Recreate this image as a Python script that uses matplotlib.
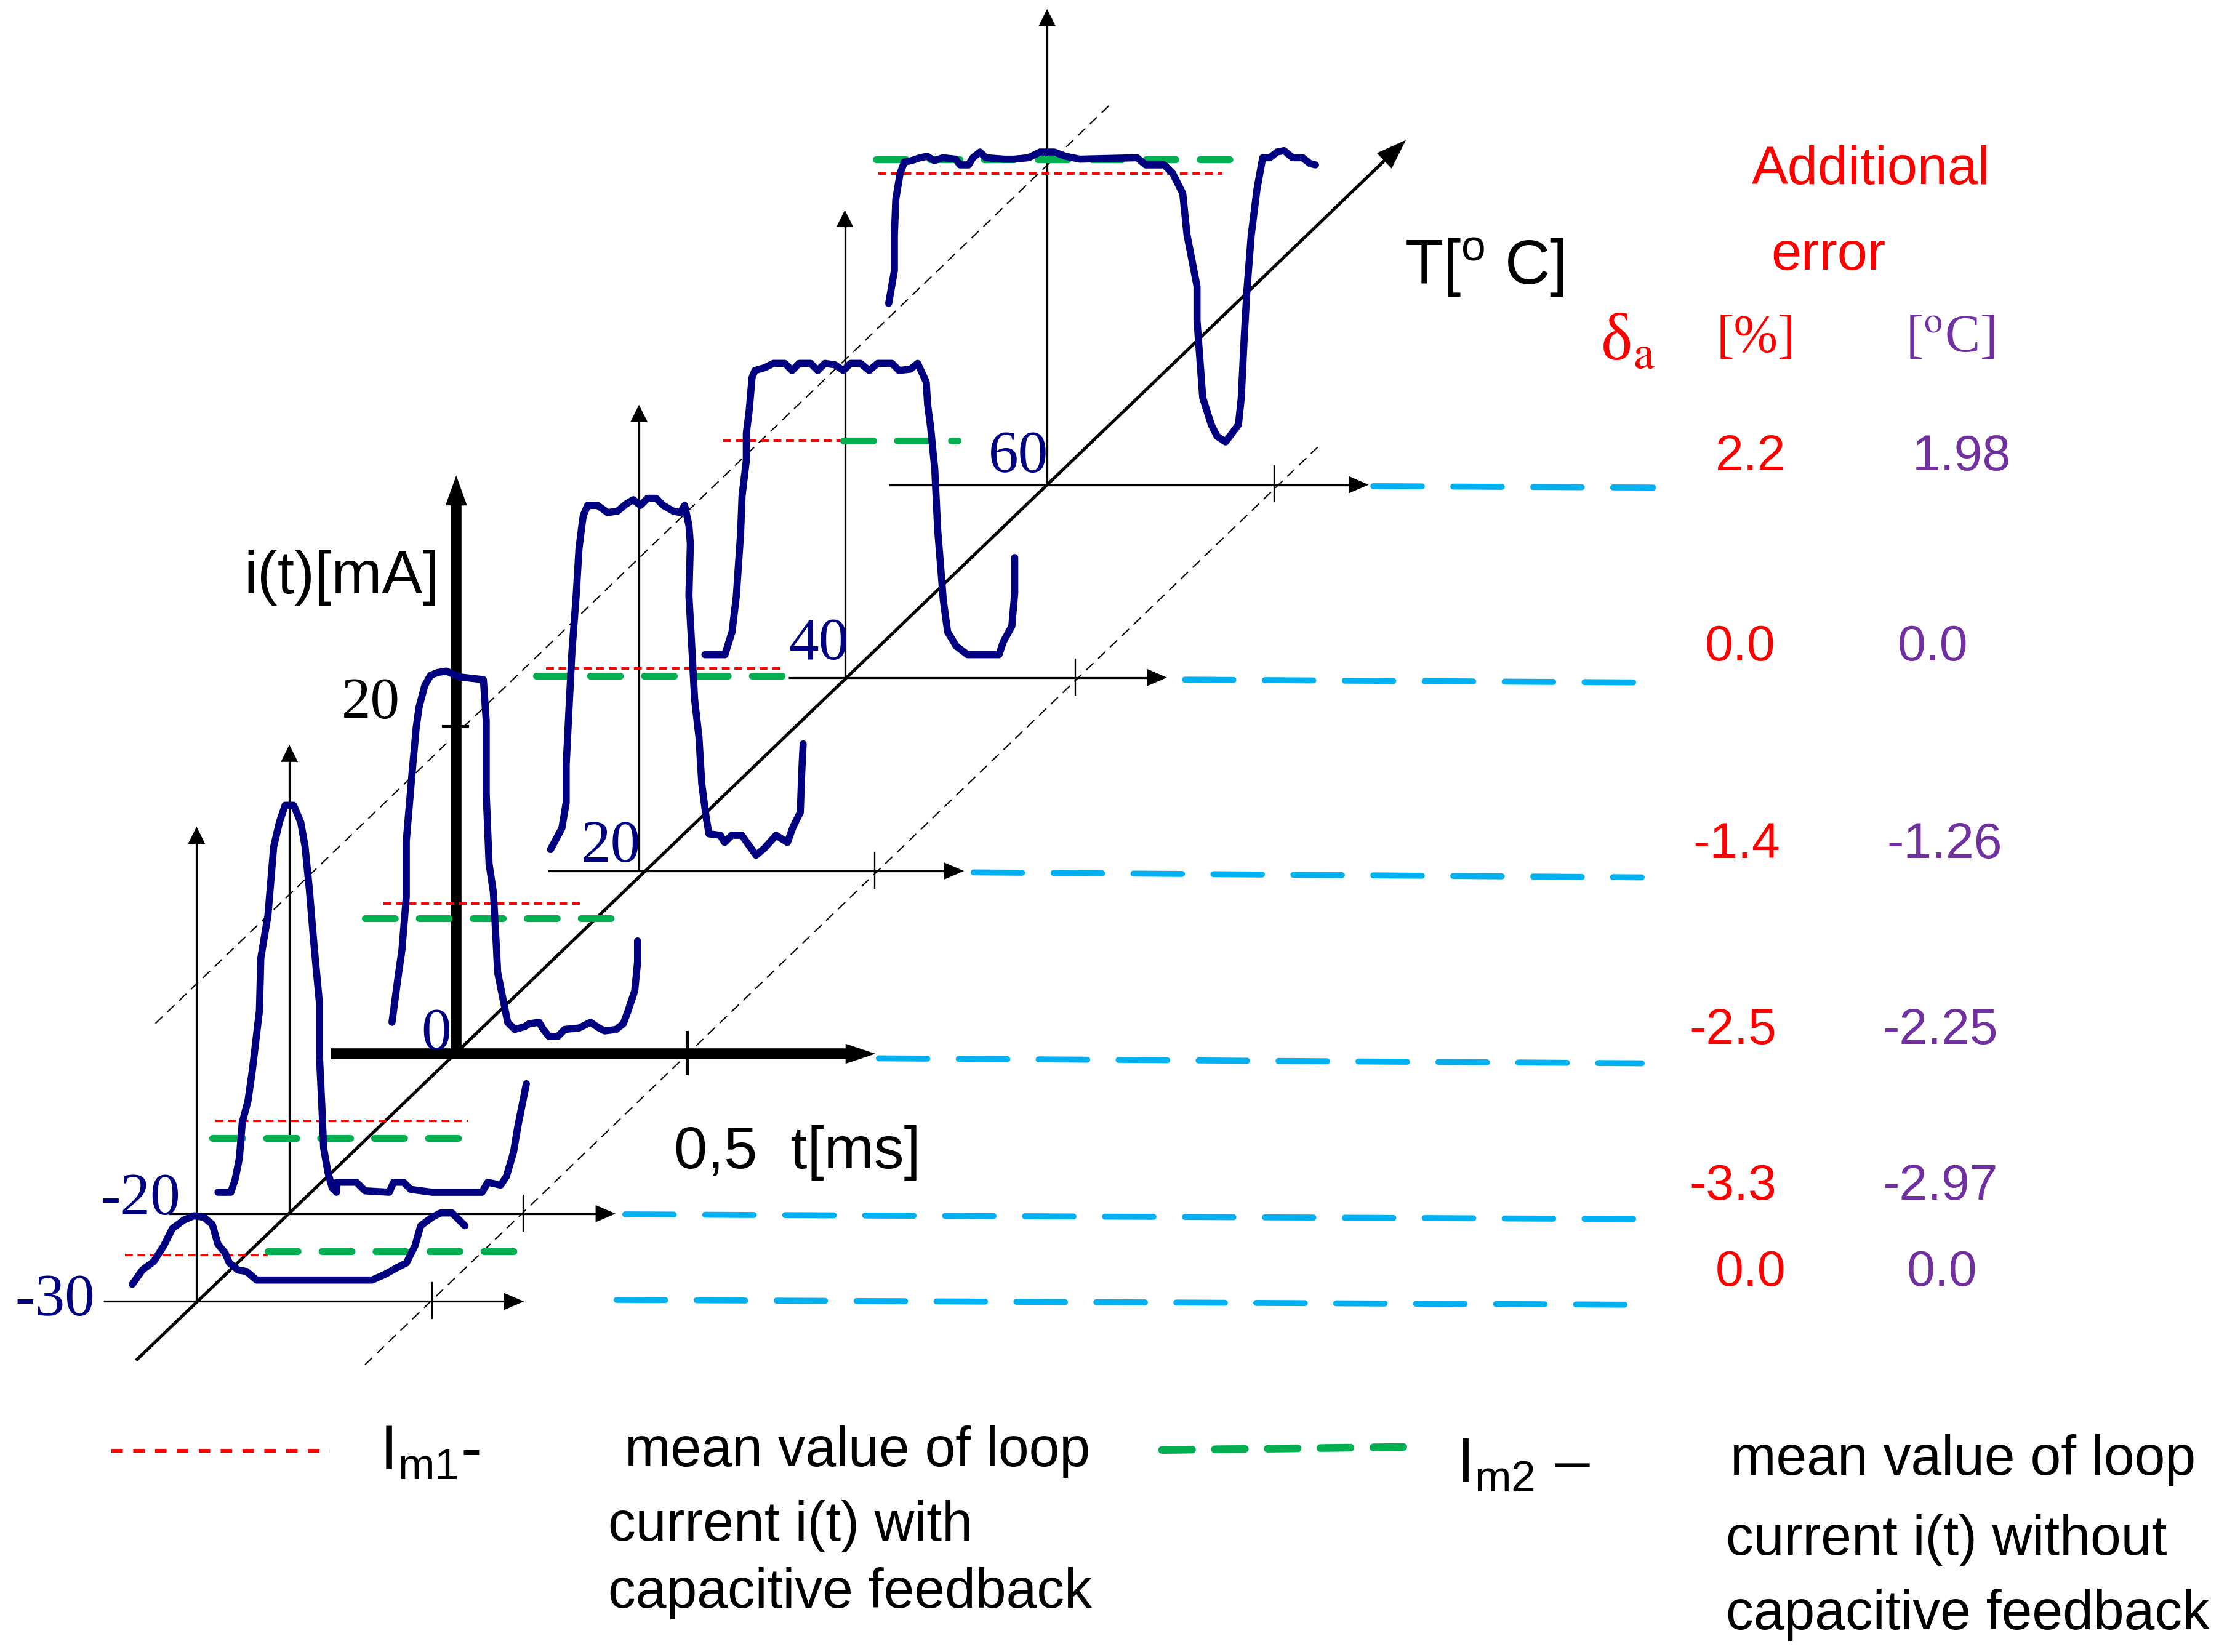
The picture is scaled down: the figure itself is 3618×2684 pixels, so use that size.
import matplotlib
matplotlib.use('Agg')
import matplotlib.pyplot as plt
from matplotlib.patches import Polygon
import numpy as np

plt.rcParams['lines.scale_dashes'] = False
plt.rcParams['mathtext.fontset'] = 'custom'
plt.rcParams['mathtext.rm'] = 'Liberation Sans'
plt.rcParams['mathtext.it'] = 'Liberation Sans:italic'
plt.rcParams['mathtext.bf'] = 'Liberation Sans:bold'

# ---------------- data ----------------
temps = [-30, -20, 0, 20, 40, 60]
temp_labels = ['-30', '-20', '0', '20', '40', '60']
err_pct = [0.0, -3.3, -2.5, -1.4, 0.0, 2.2]
err_degC = [0.0, -2.97, -2.25, -1.26, 0.0, 1.98]

# loop current waveforms, offsets from each axis origin (t to the right, i upward), drawing units
wave_t = {
    -30: [-45, -38, -30, -23, -17, -9, -2, 5, 11, 15, 20, 23, 29, 35, 42, 123, 132, 141, 147, 153, 157, 165, 171, 179, 188],
    -20: [-50, -41, -38, -35, -33, -29, -26, -21, -20, -15, -13, -11, -7, -3, 3, 8, 11, 14, 17, 21, 21, 23, 24, 27, 30, 33,
          33, 47, 53, 70, 73, 80, 85, 100, 135, 139, 148, 152, 157, 160, 163, 166],
    0: [-45, -41, -38, -35, -35, -31, -28, -26, -22, -18, -13, -7, 2, 10, 19, 21, 21, 23, 26, 28, 29, 33, 36, 41, 48, 51,
        58, 61, 65, 71, 76, 86, 94, 100, 104, 112, 117, 120, 125, 127, 127],
    20: [-62, -54, -51, -51, -49, -47, -44, -42, -40, -39, -36, -29, -22, -15, -9, -4, 1, 6, 12, 17, 24, 29, 32, 35, 36,
         35, 37, 39, 42, 44, 47, 49, 57, 60, 65, 72, 82, 88, 96, 104, 108, 113, 114, 115],
    40: [-98, -84, -79, -76, -73, -72, -69, -69, -67, -65, -63, -56, -50, -42, -37, -32, -24, -19, -14, -7, -1, 4, 11, 17,
         23, 33, 38, 46, 51, 57, 58, 60, 63, 65, 67, 69, 72, 78, 86, 108, 111, 117, 119, 119],
    60: [-111, -107, -107, -106, -103, -100, -95, -89, -84, -79, -73, -64, -61, -55, -52, -47, -43, -30, -23, -13, -5, 5,
         13, 23, 63, 69, 82, 88, 95, 98, 105, 105, 109, 115, 119, 125, 134, 136, 138, 140, 143, 147, 151, 156, 161, 166,
         172, 179, 184, 188],
}
wave_i = {
    -30: [12, 22, 28, 39, 51, 57, 60, 59, 54, 40, 34, 27, 22, 21, 15, 15, 19, 24, 27, 39, 53, 59, 62, 62, 53],
    -20: [15, 15, 24, 39, 64, 79, 100, 142, 179, 209, 233, 257, 274, 286, 286, 274, 257, 227, 191, 148, 112, 70, 46, 29,
          18, 15, 22, 22, 16, 15, 22, 22, 17, 15, 15, 22, 20, 26, 43, 61, 76, 91],
    0: [22, 52, 73, 110, 149, 196, 229, 243, 258, 265, 267, 268, 264, 263, 262, 233, 182, 133, 113, 77, 57, 37, 22, 17,
        19, 21, 22, 17, 12, 12, 17, 18, 22, 18, 16, 17, 21, 29, 44, 64, 79],
    20: [15, 30, 48, 74, 114, 153, 193, 226, 242, 249, 256, 256, 251, 252, 257, 260, 256, 261, 261, 256, 252, 251, 256,
         242, 229, 193, 157, 120, 94, 61, 38, 26, 25, 20, 25, 25, 11, 16, 25, 20, 31, 41, 69, 89],
    40: [16, 16, 32, 57, 101, 127, 152, 171, 187, 210, 215, 217, 220, 220, 215, 220, 220, 215, 220, 219, 215, 220, 220,
         215, 220, 220, 215, 216, 220, 207, 191, 176, 146, 104, 79, 54, 32, 22, 16, 16, 25, 36, 59, 84],
    60: [127, 150, 175, 200, 218, 226, 227, 229, 230, 227, 229, 228, 224, 224, 229, 233, 229, 228, 228, 229, 233, 233, 230,
         228, 229, 224, 224, 218, 204, 175, 139, 115, 61, 42, 34, 30, 42, 61, 102, 137, 175, 207, 229, 229, 233, 234, 229,
         229, 225, 224],
}
# mean values: level (upward offset) and t-span
im1_level = [32.5, 65, 105, 142, 166, 218]
im1_span = [(-50, 50), (-52, 125), (-51, 89), (-65, 99), (-85, -3), (-118, 123)]
im2_level = [35, 53, 95, 136.5, 166, 228]
im2_span = [(50, 229), (-54, 124), (-64, 113), (-72, 105), (-1, 79), (-120, 133)]

# ---------------- layout ----------------
W, H = 1560, 1157
DPI = 100
P = 3618 / W * 72 / DPI  # points per drawing unit

NAVY = '#000080'
RED = '#FF0000'
GREEN = '#00B050'
CYAN = '#00B0F0'
PURPLE = '#7030A0'
SERIF = 'Liberation Serif'
SANS = 'Liberation Sans'

origin_x = [137.7, 202.7, 319.6, 447.6, 591.8, 733.5]
origin_y = [911.5, 850, 738, 610, 474.5, 339.5]
axis_left = [72.6, 118, 231.4, 383.9, 552.5, 622.7]
axis_tip = [367, 431.2, 613.3, 675.3, 817.5, 958.8]
tick_x = [302.6, 366.7, 481.3, 612.6, 753.2, 892.6]
vtop = [579, 521.6, 333, 283.5, 147.1, 6.3]
label_right = [66.6, 126.5, 316, 449, 594.5, 734.6]
label_base = [921, 850.5, 735, 603.6, 461.7, 330.6]
cyan_start = [(432, 910.4), (438, 850.5), (615.6, 741.2), (682, 611), (830, 476), (962, 340.5)]
cyan_end = [(1146, 913.8), (1152, 853.8), (1150, 744.7), (1150, 614.5), (1155, 478), (1158, 341.5)]
row_base = [900.6, 840, 731, 600.9, 462.6, 329.5]
pct_cx = [1226.4, 1213.8, 1213.8, 1216.4, 1218.8, 1226.2]
deg_cx = [1360.6, 1359, 1359, 1362.2, 1354.1, 1374]

fig = plt.figure(figsize=(36.18, 26.84), dpi=DPI)
ax = fig.add_axes([0, 0, 1, 1])
ax.set_xlim(0, W)
ax.set_ylim(H, 0)
ax.axis('off')


def arrow(x0, y0, x1, y1, lw, head_len, head_w, color='black', z=3):
    d = np.array([x1 - x0, y1 - y0], dtype=float)
    u = d / np.hypot(*d)
    n = np.array([-u[1], u[0]])
    tip = np.array([x1, y1], dtype=float)
    base = tip - u * head_len
    ax.plot([x0, base[0] + u[0]], [y0, base[1] + u[1]], color=color, lw=lw * P,
            solid_capstyle='butt', zorder=z)
    ax.add_patch(Polygon([tip, base + n * head_w, base - n * head_w], closed=True,
                         facecolor=color, edgecolor='none', zorder=z))


# thin dashed guide lines parallel to T axis
for (xa, ya), (xb, yb) in [((108.9, 716.8), (777.5, 73.4)), ((255.7, 955.8), (923, 313.2))]:
    ax.plot([xa, xb], [ya, yb], color='black', lw=0.9 * P, dashes=(7 * P, 4.5 * P), zorder=2)

# main temperature axis
arrow(95.3, 952.8, 984.8, 98.1, 2.2, 21, 7.5)

# per-temperature axes
for k, T in enumerate(temps):
    ox, oy = origin_x[k], origin_y[k]
    if T == 0:
        arrow(axis_left[k], oy, axis_tip[k], oy, 7.6, 21, 7, z=4)
        arrow(ox, oy + 3.5, ox, vtop[k], 7.6, 21, 7.5, z=4)
        ax.plot([tick_x[k], tick_x[k]], [oy - 15, oy + 14], color='black', lw=2.2 * P, zorder=4)
        ax.plot([310.6, 327.2], [508.5, 508.5], color='black', lw=2.2 * P, zorder=4)
    else:
        arrow(axis_left[k], oy, axis_tip[k], oy, 1.4, 14, 6)
        arrow(ox, oy, ox, vtop[k], 1.4, 12, 6)
        ax.plot([tick_x[k], tick_x[k]], [oy - 13, oy + 12], color='black', lw=1.0 * P, zorder=3)
    ax.text(label_right[k], label_base[k], temp_labels[k], color=NAVY, fontsize=42 * P,
            family=SERIF, ha='right', va='baseline', zorder=6)

    # mean values
    l1, (a1, b1) = im1_level[k], im1_span[k]
    ax.plot([ox + a1, ox + b1], [oy - l1, oy - l1], color=RED, lw=1.7 * P,
            dashes=(5.5 * P, 3.3 * P), zorder=5)
    l2, (a2, b2) = im2_level[k], im2_span[k]
    ax.plot([ox + a2, ox + b2], [oy - l2, oy - l2], color=GREEN, lw=4.8 * P,
            dashes=(21 * P, 16.8 * P), dash_capstyle='round', zorder=5)

    # waveform
    xs = ox + np.array(wave_t[T], dtype=float)
    ys = oy - np.array(wave_i[T], dtype=float)
    ax.plot(xs, ys, color=NAVY, lw=5.0 * P, solid_joinstyle='round',
            solid_capstyle='round', zorder=6)

    # cyan continuation line
    (xa, ya), (xb, yb) = cyan_start[k], cyan_end[k]
    ax.plot([xa, xb], [ya, yb], color=CYAN, lw=4.2 * P, dashes=(34 * P, 22 * P),
            dash_capstyle='round', zorder=3)

    # error values
    ax.text(pct_cx[k], row_base[k], '%.1f' % err_pct[k], color=RED, family=SANS,
            fontsize=35.5 * P, ha='center', va='baseline')
    dtxt = '0.0' if err_degC[k] == 0 else '%.2f' % err_degC[k]
    ax.text(deg_cx[k], row_base[k], dtxt, color=PURPLE, family=SANS,
            fontsize=35.5 * P, ha='center', va='baseline')

# axis labels
ax.text(171, 415.5, 'i(t)[mA]', family=SANS, fontsize=42.5 * P, ha='left', va='baseline')
ax.text(280, 503, '20', family=SERIF, fontsize=41 * P, ha='right', va='baseline')
ax.text(472, 818, '0,5  t[ms]', family=SANS, fontsize=42 * P, ha='left', va='baseline')
ax.text(984, 199.3, r'T[$^{\mathrm{o}}$ C]', family=SANS, fontsize=44 * P, ha='left', va='baseline')

# error header
ax.text(1227, 128.9, 'Additional', color=RED, family=SANS, fontsize=38 * P, ha='left', va='baseline')
ax.text(1240.4, 188.8, 'error', color=RED, family=SANS, fontsize=38 * P, ha='left', va='baseline')
ax.text(1121, 252, r'δ$_{\mathrm{a}}$', color=RED, family=SERIF, fontsize=47 * P,
        math_fontfamily='stix', ha='left', va='baseline')
ax.text(1202.5, 246.3, '[%]', color=RED, family=SERIF, fontsize=37 * P, ha='left', va='baseline')
ax.text(1334.8, 246.3, r'[$^{\mathrm{o}}$C]', color=PURPLE, family=SERIF, fontsize=37 * P,
        math_fontfamily='stix', ha='left', va='baseline')

# legend
ax.plot([78, 231], [1016, 1016], color=RED, lw=2.6 * P, dashes=(8 * P, 7.3 * P))
ax.text(266, 1029.5, r'I$_{\mathrm{m1}}$-', family=SANS, fontsize=44 * P, ha='left', va='baseline')
ax.text(437.8, 1027, 'mean value of loop', family=SANS, fontsize=38.6 * P, ha='left', va='baseline')
ax.text(425.9, 1079, 'current i(t) with', family=SANS, fontsize=38.6 * P, ha='left', va='baseline')
ax.text(425.9, 1126, 'capacitive feedback', family=SANS, fontsize=38.6 * P, ha='left', va='baseline')

ax.plot([814, 986], [1015.5, 1013.4], color=GREEN, lw=5.4 * P, dashes=(21 * P, 16 * P),
        dash_capstyle='round')
ax.text(1020, 1037.8, r'I$_{\mathrm{m2}}$ –', family=SANS, fontsize=44 * P, ha='left', va='baseline')
ax.text(1212, 1033, 'mean value of loop', family=SANS, fontsize=38.6 * P, ha='left', va='baseline')
ax.text(1209, 1089, 'current i(t) without', family=SANS, fontsize=38.6 * P, ha='left', va='baseline')
ax.text(1209, 1141, 'capacitive feedback', family=SANS, fontsize=38.6 * P, ha='left', va='baseline')

fig.savefig('out.png', dpi=DPI, facecolor='white')
